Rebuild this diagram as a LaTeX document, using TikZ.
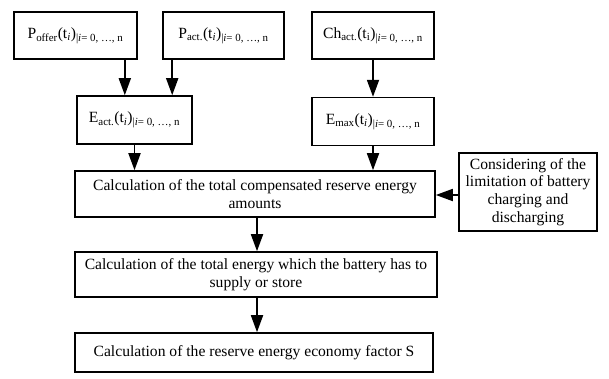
\documentclass[tikz,border=0pt]{standalone}
\usepackage{fontspec}
\setmainfont{Liberation Serif}
\usetikzlibrary{arrows.meta,positioning}

\begin{document}
\begin{tikzpicture}[x=1pt,y=-1pt,>={Triangle[width=12pt,length=17pt]},
    every edge/.style={draw,->,line width=1.8pt},
    box/.style={draw,line width=1.6pt,rectangle,align=center,inner sep=0pt,
        font=\fontsize{15.6}{17.8}\selectfont}]

    \useasboundingbox (0,0) rectangle (609,378);

    \node[box,minimum width=123pt,minimum height=47pt] (offer) at (75.5,35.5)
        {P\textsubscript{offer}(t\textsubscript{\textit{i}})\textsubscript{|\textit{i}= 0,~\dots,~n}};
    \node[box,minimum width=121pt,minimum height=47pt] (pact) at (223.5,35.5)
        {P\textsubscript{act.}(t\textsubscript{\textit{i}})\textsubscript{|\textit{i}= 0,~\dots,~n}};
    \node[box,minimum width=122pt,minimum height=47pt] (chact) at (373,35.5)
        {Ch\textsubscript{act.}(t\textsubscript{i})\textsubscript{|\textit{i}= 0,~\dots,~n}};

    \node[box,minimum width=115pt,minimum height=48pt] (eact) at (134.5,120)
        {E\textsubscript{act.}(t\textsubscript{\textit{i}})\textsubscript{|\textit{i}= 0,~\dots,~n}};
    \node[box,minimum width=122pt,minimum height=48pt] (emax) [below=37pt of chact]
        {E\textsubscript{max}(t\textsubscript{\textit{i}})\textsubscript{|\textit{i}= 0,~\dots,~n}};

    \node[box,minimum width=360pt,minimum height=46pt] (total) at (255,194)
        {Calculation of the total compensated reserve energy\\amounts};
    \node[box,minimum width=138pt,minimum height=78pt] (limit) at (528,192)
        {Considering of the\\limitation of battery\\charging and\\discharging};
    \node[box,minimum width=362pt,minimum height=45pt] (supply) at (256,274.5)
        {Calculation of the total energy which the battery has to\\supply or store};
    \node[box,minimum width=358pt,minimum height=39pt] (factor) at (254,352.5)
        {Calculation of the reserve energy economy factor S};

    \path ([xshift=-13pt]offer.south east) edge ([xshift=-13pt]offer.south east |- eact.north);
    \path ([xshift=10pt]pact.south west) edge ([xshift=10pt]pact.south west |- eact.north);
    \path (chact) edge (emax);

    \path (eact.south) edge (eact.south |- total.north);
    \path (emax.south) edge (emax.south |- total.north);
    \path ([yshift=-3pt]limit.west) edge ([yshift=-3pt]limit.west -| total.east);

    \path ([xshift=2pt]total.south) edge ([xshift=2pt]total.south |- supply.north);
    \path ([xshift=1pt]supply.south) edge ([xshift=1pt]supply.south |- factor.north);
\end{tikzpicture}
\end{document}
